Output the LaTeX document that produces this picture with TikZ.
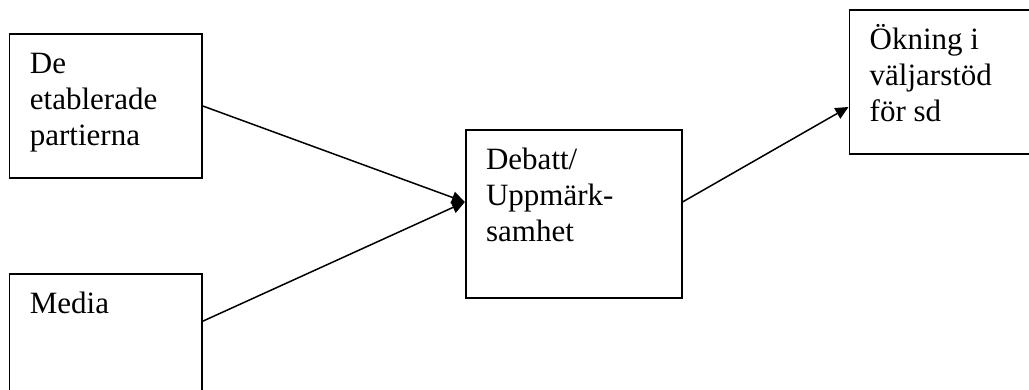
\documentclass[tikz,border=0pt]{standalone}
\usepackage{fontspec}
\setmainfont{Liberation Serif}
\usetikzlibrary{arrows.meta}
\begin{document}
\begin{tikzpicture}[x=1pt,y=-1pt,
  box/.style={draw, line width=1.6pt, rectangle, inner sep=0pt},
  txt/.style={anchor=base west, align=left, inner sep=0pt, font=\fontsize{31}{36}\selectfont},
  conn/.style={line width=1.5pt, -{Triangle[length=13pt,width=12pt]}}]
\useasboundingbox (0,0) rectangle (1029,390);
\node[box, minimum width=192.5pt, minimum height=144pt] (b1) at (105.75,106) {};
\node[box, minimum width=192.5pt, minimum height=126pt] (b2) at (105.75,337) {};
\node[box, minimum width=216pt, minimum height=168pt] (b3) at (573.7,214) {};
\node[box, minimum width=190.7pt, minimum height=144pt] (b4) at (944.65,82) {};
\node[txt] (t1) at ([shift={(21pt,-112pt)}]b1.north west) {De\\etablerade\\partierna};
\node[txt] (t2) at ([shift={(21pt,-40pt)}]b2.north west) {Media};
\node[txt] (t3) at ([shift={(21pt,-112pt)}]b3.north west) {Debatt/\\Uppmärk-\\samhet};
\node[txt] (t4) at ([shift={(21pt,-112pt)}]b4.north west) {Ökning i\\väljarstöd\\för sd};
\draw[conn] (b1.east) -- ([yshift=12pt]b3.west);
\draw[conn] ([yshift=-48pt]b2.north east) -- ([yshift=12pt]b3.west);
\draw[conn] ([yshift=12pt]b3.east) -- ([yshift=-25pt]b4.west);
\end{tikzpicture}
\end{document}
